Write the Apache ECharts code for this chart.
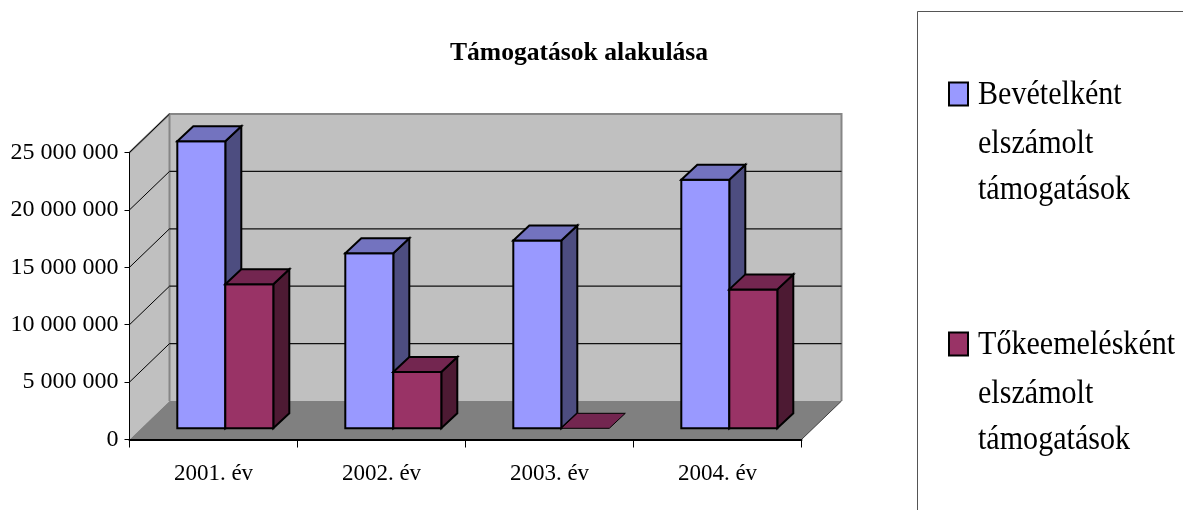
<!DOCTYPE html>
<html><head><meta charset="utf-8">
<style>html,body{margin:0;padding:0;background:#fff}#c{width:1183px;height:510px}</style>
<script src="https://cdn.jsdelivr.net/npm/echarts@6/dist/echarts.min.js"></script>
</head><body><div id="c"></div>
<script>
const categories = ['2001. év','2002. év','2003. év','2004. év'];
const bevetelValues = [25000000,15250000,16350000,21650000];
const tokeemelesValues = [12550000,4900000,0,12100000];
const yTicks = [0,5000000,10000000,15000000,20000000,25000000];
const titleText = 'Támogatások alakulása';
const bevetelLines = ['Bevételként','elszámolt','támogatások'];
const tokeemelesLines = ['Tőkeemelésként','elszámolt','támogatások'];

const WALL_DX = 40, WALL_DY = -38.5;
const BAR_DX = 11.8, BAR_DY = -11.2, DEPTH_DX = 16, DEPTH_DY = -15, BAR_W = 48;
const FONT = '"Liberation Serif","Times New Roman",serif';
const fmt = v => String(v).replace(/\B(?=(\d{3})+$)/g,' ');

function plotBox(api){
  const band = api.size([1,0])[0];
  const l = api.coord([0,0])[0]-band/2;
  const r = api.coord([categories.length-1,0])[0]+band/2;
  const b = api.coord([0,0])[1];
  const t = api.coord([0,yTicks[yTicks.length-1]])[1];
  return {l,r,b,t};
}
function wallsItem(params,api){
  const {l,r,b,t} = plotBox(api);
  const dx=WALL_DX, dy=WALL_DY, gray='#868686';
  return {type:'group',children:[
    {type:'polygon',shape:{points:[[l,t],[l+dx,t+dy],[l+dx,b+dy],[l,b]]},style:{fill:'#C0C0C0'}},
    {type:'rect',shape:{x:l+dx,y:t+dy,width:r-l,height:b-t},style:{fill:'#C0C0C0'}},
    {type:'polygon',shape:{points:[[l,b],[l+dx,b+dy],[r+dx,b+dy],[r,b]]},style:{fill:'#808080'}},
    {type:'polyline',shape:{points:[[l,t],[l+dx,t+dy],[r+dx,t+dy],[r+dx,b+dy]]},style:{fill:'none',stroke:gray,lineWidth:2}},
    {type:'line',shape:{x1:l+dx,y1:t+dy,x2:l+dx,y2:b+dy},style:{stroke:gray,lineWidth:2}},
    {type:'line',shape:{x1:r,y1:b,x2:r+dx,y2:b+dy},style:{stroke:'#404040',lineWidth:1}}
  ]};
}
function gridItem(params,api){
  const {l,r} = plotBox(api);
  const v = api.value(1), y = api.coord([0,v])[1];
  const kids = [];
  if(v>0){
    kids.push({type:'line',shape:{x1:l,y1:y,x2:l+WALL_DX,y2:y+WALL_DY},style:{stroke:'#000',lineWidth:1}});
    if(v<yTicks[yTicks.length-1])
      kids.push({type:'line',shape:{x1:l+WALL_DX,y1:y+WALL_DY,x2:r+WALL_DX,y2:y+WALL_DY},style:{stroke:'#111',lineWidth:1.2}});
  }
  return {type:'group',children:kids};
}
function barItem(front,side,top,offset){
  return function(params,api){
    const p = api.coord([api.value(0),api.value(1)]);
    const base = api.coord([api.value(0),0])[1]+BAR_DY;
    const x0 = p[0]+BAR_DX+offset*BAR_W, x1 = x0+BAR_W;
    const yT = p[1]+BAR_DY;
    const sx = DEPTH_DX, sy = DEPTH_DY;
    const st = c => ({fill:c,stroke:'#000',lineWidth:2,lineJoin:'miter'});
    const kids = [];
    if(api.value(1)>0){
      kids.push({type:'polygon',shape:{points:[[x1,yT],[x1+sx,yT+sy],[x1+sx,base+sy],[x1,base]]},style:st(side)});
      kids.push({type:'rect',shape:{x:x0,y:yT,width:BAR_W,height:base-yT},style:st(front)});
      kids.push({type:'polygon',shape:{points:[[x0,yT],[x0+sx,yT+sy],[x1+sx,yT+sy],[x1,yT]]},style:st(top)});
    } else {
      kids.push({type:'polygon',shape:{points:[[x0,yT],[x0+sx,yT+sy],[x1+sx,yT+sy],[x1,yT]]},style:{fill:top,stroke:'#000',lineWidth:1}});
    }
    return {type:'group',children:kids};
  };
}
const legendGraphics = [];
function addLegend(lines,fill,swatchY){
  legendGraphics.push({type:'rect',shape:{x:949,y:swatchY,width:19,height:23},style:{fill,stroke:'#000',lineWidth:2}});
  lines.forEach((s,i)=>{
    legendGraphics.push({type:'text',x:978,y:swatchY+11+[2,51,97][i],scaleX:0.885,
      style:{text:s,font:'34px '+FONT,fill:'#000',textAlign:'left',textVerticalAlign:'middle'}});
  });
}
addLegend(bevetelLines,'#9999FF',82.5);
addLegend(tokeemelesLines,'#993366',332.5);
legendGraphics.push({type:'polyline',shape:{points:[[917.5,510],[917.5,11.5],[1183,11.5]]},style:{fill:'none',stroke:'#555',lineWidth:1}});

const chart = echarts.init(document.getElementById('c'),null,{renderer:'canvas'});
chart.setOption({
  animation:false,
  backgroundColor:'#fff',
  title:{text:titleText,left:574,top:35,textAlign:'center',textStyle:{fontFamily:FONT,fontWeight:'bold',fontSize:25.6,color:'#000'}},
  grid:{left:129.5,top:152.5,width:672,height:287},
  xAxis:{type:'category',data:categories,z:10,boundaryGap:true,
    axisLine:{show:true,lineStyle:{color:'#000',width:2}},
    axisTick:{show:true,alignWithLabel:false,interval:0,length:8,lineStyle:{color:'#000',width:1}},
    axisLabel:{fontFamily:FONT,fontSize:23,color:'#000',margin:23}},
  yAxis:{type:'value',min:0,max:25000000,interval:5000000,z:10,
    axisLine:{show:true,lineStyle:{color:'#000',width:1}},
    axisTick:{show:true,length:5,lineStyle:{color:'#000',width:1}},
    splitLine:{show:false},
    axisLabel:{fontFamily:FONT,fontSize:24,color:'#000',margin:11,padding:[0,0,2,0],formatter:fmt}},
  graphic:legendGraphics,
  series:[
    {type:'custom',name:'walls',silent:true,z:1,renderItem:wallsItem,data:[[0,0]],encode:{x:0,y:1}},
    {type:'custom',name:'grid',silent:true,z:2,renderItem:gridItem,data:yTicks.map(v=>[0,v]),encode:{x:0,y:1}},
    {type:'custom',name:bevetelLines.join(' '),z:3,renderItem:barItem('#9999FF','#4D4D80','#7373BF',-1),
      data:bevetelValues.map((v,i)=>[i,v]),encode:{x:0,y:1}},
    {type:'custom',name:tokeemelesLines.join(' '),z:4,renderItem:barItem('#993366','#4D1A33','#732650',0),
      data:tokeemelesValues.map((v,i)=>[i,v]),encode:{x:0,y:1}}
  ]
});
</script></body></html>
